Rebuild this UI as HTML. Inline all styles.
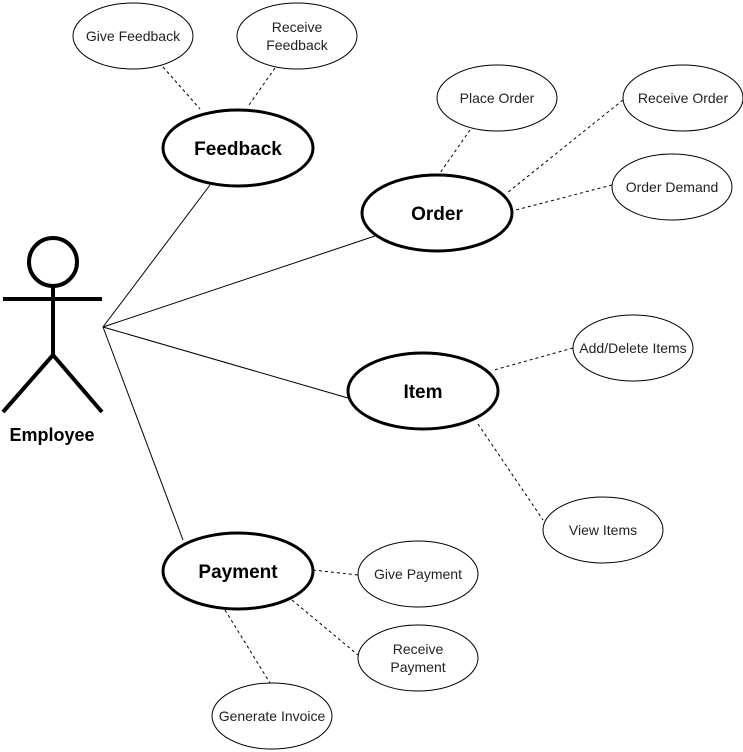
<!DOCTYPE html>
<html><head><style>body{margin:0;background:#fff}svg{display:block}</style></head><body>
<svg width="743" height="752" xmlns="http://www.w3.org/2000/svg" font-family="Liberation Sans, sans-serif">
<rect width="743" height="752" fill="#fff"/>
<g stroke="#000" stroke-width="1">
<line x1="103" y1="327" x2="210" y2="185"/>
<line x1="103" y1="327" x2="375" y2="236"/>
<line x1="103" y1="327" x2="348" y2="398"/>
<line x1="103" y1="327" x2="183" y2="540"/>
</g>
<g stroke="#000" stroke-width="1" stroke-dasharray="3,3">
<line x1="163" y1="67" x2="200" y2="109"/>
<line x1="275" y1="68" x2="249" y2="105"/>
<line x1="470" y1="130" x2="440" y2="173"/>
<line x1="623" y1="100" x2="507" y2="193"/>
<line x1="612" y1="185" x2="512" y2="211"/>
<line x1="573" y1="348" x2="494" y2="370"/>
<line x1="478" y1="424" x2="543" y2="520"/>
<line x1="313" y1="570" x2="358" y2="575"/>
<line x1="292" y1="600" x2="358" y2="655"/>
<line x1="225" y1="610" x2="270" y2="683"/>
</g>
<g stroke="#000" stroke-width="4" fill="none">
<circle cx="53" cy="262" r="24"/>
<line x1="53" y1="286" x2="53" y2="356"/>
<line x1="3" y1="299" x2="102" y2="299"/>
<line x1="53" y1="355" x2="3" y2="412"/>
<line x1="53" y1="355" x2="102" y2="412"/>
</g>
<text x="52" y="441" font-size="18" font-weight="bold" text-anchor="middle">Employee</text>
<g fill="#fff" stroke="#000" stroke-width="3">
<ellipse cx="238" cy="148" rx="75" ry="38"/>
<ellipse cx="437" cy="213" rx="75" ry="38"/>
<ellipse cx="423" cy="391" rx="75" ry="38"/>
<ellipse cx="238" cy="571" rx="75" ry="38"/>
</g>
<g font-size="19" font-weight="bold" text-anchor="middle">
<text x="238" y="155">Feedback</text>
<text x="437" y="220">Order</text>
<text x="423" y="398">Item</text>
<text x="238" y="578">Payment</text>
</g>
<g fill="#fff" stroke="#000" stroke-width="1">
<ellipse cx="133" cy="36" rx="60" ry="33"/>
<ellipse cx="297" cy="36" rx="60" ry="33"/>
<ellipse cx="497" cy="98" rx="60" ry="33"/>
<ellipse cx="683" cy="98" rx="60" ry="33"/>
<ellipse cx="672" cy="187" rx="60" ry="33"/>
<ellipse cx="633" cy="348" rx="60" ry="33"/>
<ellipse cx="603" cy="530" rx="60" ry="33"/>
<ellipse cx="418" cy="574" rx="60" ry="33"/>
<ellipse cx="418" cy="658" rx="60" ry="33"/>
<ellipse cx="272" cy="716" rx="60" ry="33"/>
</g>
<g font-size="14" text-anchor="middle" fill="#222">
<text x="133" y="41">Give Feedback</text>
<text x="297" y="32">Receive</text><text x="297" y="50">Feedback</text>
<text x="497" y="103">Place Order</text>
<text x="683" y="103">Receive Order</text>
<text x="672" y="192">Order Demand</text>
<text x="633" y="353">Add/Delete Items</text>
<text x="603" y="535">View Items</text>
<text x="418" y="579">Give Payment</text>
<text x="418" y="654">Receive</text><text x="418" y="672">Payment</text>
<text x="272" y="721">Generate Invoice</text>
</g>
</svg>
</body></html>
